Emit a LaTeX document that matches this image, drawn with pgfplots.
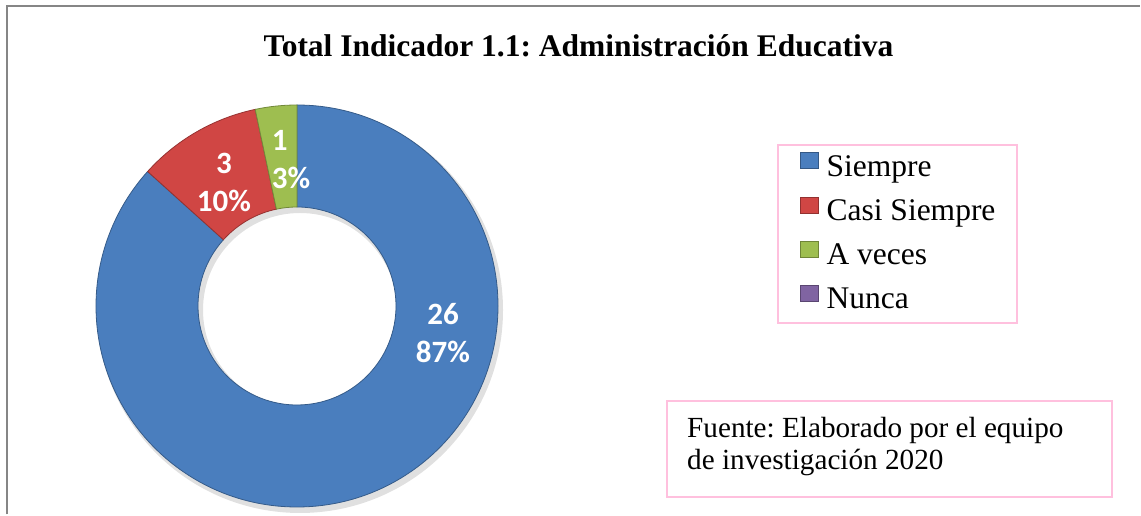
\documentclass[border=0pt]{standalone}
\usepackage{pgfplots}
\pgfplotsset{compat=1.18}
\usepackage{pgfplotstable}
\usepackage{fontspec}
\setmainfont{Liberation Serif}
\newfontfamily\calibri{Carlito}
\definecolor{cBlue}{RGB}{74,126,190}
\definecolor{cRed}{RGB}{208,70,68}
\definecolor{cGreen}{RGB}{158,190,80}
\definecolor{cPurple}{RGB}{128,100,162}
\definecolor{pinkb}{RGB}{255,192,222}
\definecolor{frameg}{RGB}{134,134,134}

\pgfplotstableread[col sep=comma]{
cat,value
Siempre,26
Casi Siempre,3
A veces,1
Nunca,0
}\datatable

\pgfplotsset{sqleg/.style={legend image code/.code={%
  \filldraw[##1, line width=0.6bp] (0bp,0bp) rectangle (18bp,16bp);}}}

\newcommand\donutslice[3]{%
  \fill[#3, draw=#3!72!black, line width=0.8bp]
    (axis cs:{297+201*cos(#1)},{210+201*sin(#1)})
    arc[start angle=#1, end angle=#2, radius=201bp]
    -- (axis cs:{297+99*cos(#2)},{210+99*sin(#2)})
    arc[start angle=#2, end angle=#1, radius=99bp] -- cycle;}

\begin{document}
\frenchspacing
\begin{tikzpicture}
\pgfplotstablegetelem{0}{value}\of\datatable\edef\vA{\pgfplotsretval}
\pgfplotstablegetelem{1}{value}\of\datatable\edef\vB{\pgfplotsretval}
\pgfplotstablegetelem{2}{value}\of\datatable\edef\vC{\pgfplotsretval}
\pgfplotstablegetelem{3}{value}\of\datatable\edef\vD{\pgfplotsretval}
\pgfmathsetmacro\tot{\vA+\vB+\vC+\vD}
\pgfmathsetmacro\aA{90}
\pgfmathsetmacro\aB{90-360*\vA/\tot}
\pgfmathsetmacro\aC{\aB-360*\vB/\tot}
\pgfmathsetmacro\aD{\aC-360*\vC/\tot}
\begin{axis}[
  x=1bp, y=1bp,
  xmin=0, xmax=1141, ymin=0, ymax=516,
  hide axis, clip=false,
  legend cell align=left,
  legend style={
    at={(axis cs:777,192)}, anchor=south west,
    draw=pinkb, line width=2bp, fill=white,
    inner xsep=22bp, inner ysep=7bp,
    row sep=13.5bp, column sep=8bp,
    font=\fontsize{31.5bp}{36bp}\selectfont,
    nodes={inner sep=0pt, text height=22bp, text depth=7bp},
  },
]
% page extent
\path (axis cs:0,0) rectangle (axis cs:1141,516);
% frame
\draw[frameg, line width=2bp] (axis cs:7,1.5) -- (axis cs:7,510) -- (axis cs:1139.5,510);
% title
\node[anchor=base, font=\fontsize{31.5bp}{36bp}\selectfont\bfseries]
  at (axis cs:578.5,459) {Total Indicador 1.1: Administración Educativa};
% shadow
\fill[black, opacity=0.12, even odd rule]
  (axis cs:300,206) circle[radius=203bp] (axis cs:300,206) circle[radius=97bp];
% slices
\donutslice{\aA}{\aB}{cBlue}
\donutslice{\aB}{\aC}{cRed}
\donutslice{\aC}{\aD}{cGreen}
% labels
\node[text=white, align=center, font=\calibri\bfseries\fontsize{31bp}{38bp}\selectfont]
  at (axis cs:443,183) {26\\87\%};
\node[text=white, align=center, font=\calibri\bfseries\fontsize{31bp}{38bp}\selectfont]
  at (axis cs:224,334) {3\\10\%};
\node[text=white, align=left, font=\calibri\bfseries\fontsize{31bp}{38bp}\selectfont]
  at (axis cs:291,356) {1\\3\%};
% source box
\draw[pinkb, line width=2bp] (axis cs:667,19) rectangle (axis cs:1112,115);
\node[anchor=base west, inner sep=0pt, font=\fontsize{29.2bp}{32bp}\selectfont]
  at (axis cs:687,78) {Fuente: Elaborado por el equipo};
\node[anchor=base west, inner sep=0pt, font=\fontsize{29.2bp}{32bp}\selectfont]
  at (axis cs:687,46) {de investigación 2020};
% legend
\addlegendimage{sqleg, fill=cBlue, draw=cBlue!70!black}
\addlegendimage{sqleg, fill=cRed, draw=cRed!70!black}
\addlegendimage{sqleg, fill=cGreen, draw=cGreen!70!black}
\addlegendimage{sqleg, fill=cPurple, draw=cPurple!70!black}
\legend{Siempre, Casi Siempre, A veces, Nunca}
\end{axis}
\end{tikzpicture}
\end{document}
